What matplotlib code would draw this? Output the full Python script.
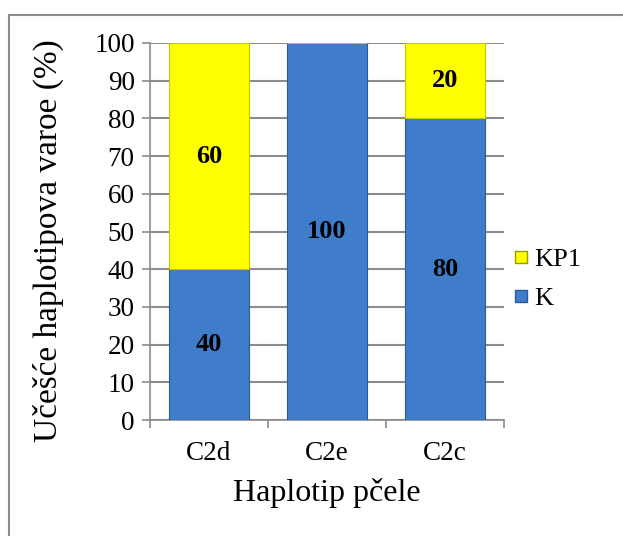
import matplotlib
matplotlib.use("Agg")
import numpy as np
import matplotlib.pyplot as plt
from matplotlib.patches import Rectangle
from matplotlib.lines import Line2D

categories = ['C2d', 'C2e', 'C2c']
k_vals = [40, 100, 80]
kp1_vals = [60, 0, 20]

plt.rcParams['font.family'] = ['Liberation Serif', 'DejaVu Serif']

W, H = 623, 536
fig = plt.figure(figsize=(W / 100, H / 100), dpi=100)

# outer chart frame (clipped at right/bottom like the reference)
fig.patches.append(Rectangle((9 / W, -0.1), 1.2, 1 - 15 / H + 0.1,
                             transform=fig.transFigure, fill=False,
                             edgecolor='#8c8c8c', linewidth=1.5))

ax = fig.add_axes([150 / W, 1 - 420 / H, (504 - 150) / W, (420 - 43) / H])

x = np.arange(len(categories))
blue = '#3f7dcb'
yellow = '#ffff00'
ax.bar(x, k_vals, width=0.68, color=blue, edgecolor='#2c5a96', linewidth=0.8, zorder=3, label='K')
ax.bar(x, kp1_vals, width=0.68, bottom=k_vals, color=yellow, edgecolor='#c8c800',
       linewidth=0.8, zorder=3, label='KP1')

for i in range(len(categories)):
    if k_vals[i] > 0:
        ax.text(x[i], k_vals[i] / 2, str(k_vals[i]), ha='center', va='center',
                fontsize=19, fontweight='bold', zorder=4)
    if kp1_vals[i] > 0:
        ax.text(x[i], k_vals[i] + kp1_vals[i] / 2, str(kp1_vals[i]), ha='center', va='center',
                fontsize=19, fontweight='bold', zorder=4)

ax.set_xlim(-0.5, 2.5)
ax.set_ylim(0, 100)
ax.set_yticks(range(0, 101, 10))
ax.set_xticks(x)
ax.set_xticklabels(categories)
ax.set_xticks([-0.5, 0.5, 1.5, 2.5], minor=True)
ax.tick_params(axis='x', which='major', length=0, labelsize=19.5, pad=15)
ax.tick_params(axis='x', which='minor', length=6, color='#8c8c8c', width=1.2)
ax.tick_params(axis='y', length=6, color='#8c8c8c', width=1.2, labelsize=19.5, pad=5)

ax.yaxis.grid(True, color='#8c8c8c', linewidth=1.5, zorder=0)
ax.set_axisbelow(True)
for s in ['top', 'right']:
    ax.spines[s].set_visible(False)
for s in ['left', 'bottom']:
    ax.spines[s].set_color('#8c8c8c')
    ax.spines[s].set_linewidth(1.2)

ax.set_xlabel('Haplotip pčele', fontsize=23)
ax.set_ylabel('Učešće haplotipova varoe (%)', fontsize=24)
ax.xaxis.set_label_coords(0.5, -0.155)
ax.yaxis.set_label_coords(-0.243, 0.477)

handles = [Line2D([], [], marker='s', linestyle='none', markersize=9, markerfacecolor=yellow,
                  markeredgecolor='#999900', label='KP1'),
           Line2D([], [], marker='s', linestyle='none', markersize=9, markerfacecolor=blue,
                  markeredgecolor='#2c5a96', label='K')]
fig.legend(handles=handles, loc='center left', bbox_to_anchor=(514 / W, 1 - 279 / H),
           frameon=False, fontsize=19, handletextpad=0.25, labelspacing=0.6,
           handlelength=0.5, borderpad=0, borderaxespad=0)

fig.savefig('out.png', dpi=100)
